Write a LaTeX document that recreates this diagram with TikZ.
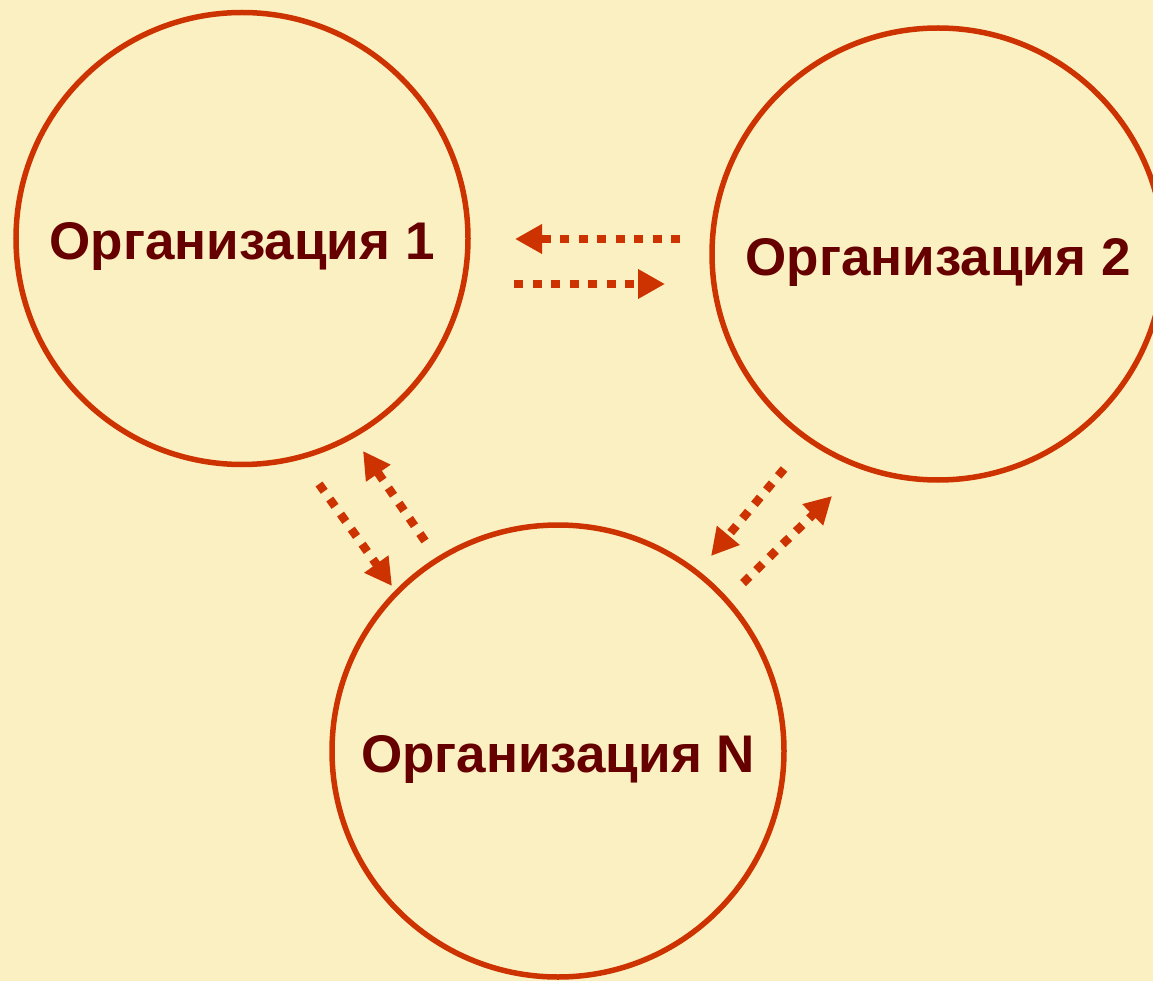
\documentclass[tikz,border=0pt]{standalone}
\usepackage{fontspec}
\setmainfont{Liberation Sans}
\usetikzlibrary{arrows.meta}
\definecolor{bg}{HTML}{FBF0C1}
\definecolor{ring}{HTML}{CC3300}
\definecolor{txt}{HTML}{660000}
\tikzset{
  org/.style={circle, draw=ring, line width=5.5pt, minimum size=452pt, inner sep=0pt,
    text=txt, font=\fontsize{53}{60}\selectfont\bfseries, text height=43pt, text depth=0pt},
  flow/.style={draw=ring, line width=8.5pt, dash pattern=on 9pt off 9.5pt,
    -{Triangle[length=27pt,width=28pt]}}
}
\begin{document}
\begin{tikzpicture}[x=1pt,y=-1pt]
\fill[bg] (0,0) rectangle (1153,981);
\useasboundingbox (0,0) rectangle (1153,981);
\clip (0,0) rectangle (1153,981);
\node[org] (o1) at (242,238.5) {Организация 1};
\node[org] (o2) at (938,254) {Организация 2};
\node[org] (on) at (558,751) {Организация N};
\coordinate (a1s) at (680,239);
\coordinate (a1e) at (515,239);
\coordinate (a2s) at (514,284);
\coordinate (a2e) at (665,284);
\coordinate (a3s) at (319,484);
\coordinate (a3e) at (392,586);
\coordinate (a4s) at (425,541);
\coordinate (a4e) at (363,451);
\coordinate (a5s) at (784,469);
\coordinate (a5e) at (711,556);
\coordinate (a6s) at (743,583);
\coordinate (a6e) at (832,496);
\draw[flow] (a1s) -- (a1e);
\draw[flow] (a2s) -- (a2e);
\draw[flow] (a3s) -- (a3e);
\draw[flow] (a4s) -- (a4e);
\draw[flow] (a5s) -- (a5e);
\draw[flow] (a6s) -- (a6e);
\end{tikzpicture}
\end{document}
